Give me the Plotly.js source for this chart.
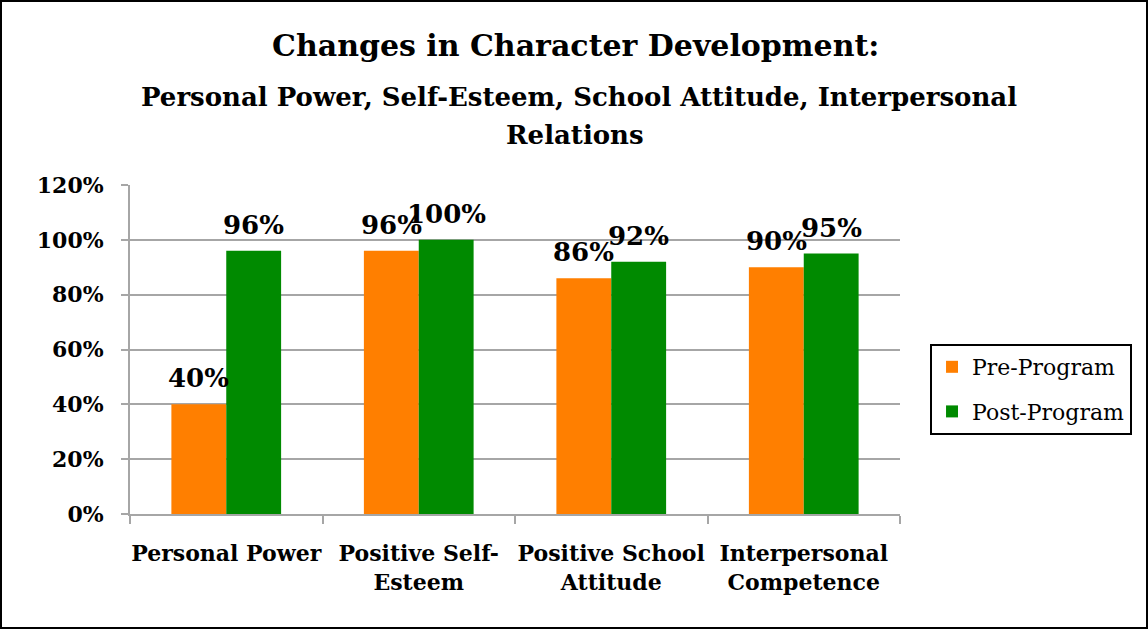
<!DOCTYPE html>
<html>
<head>
<meta charset="utf-8">
<script src="https://cdn.plot.ly/plotly-3.0.1.min.js"></script>
<style>
  html, body { margin: 0; padding: 0; background: #fff; }
  #chart { width: 1148px; height: 629px; box-sizing: border-box; border: 2px solid #000; }
</style>
</head>
<body>
<div id="chart"></div>
<script>
// ---- data ----
const categories = ["Personal Power", "Positive Self-<br>Esteem", "Positive School<br>Attitude", "Interpersonal<br>Competence"];
const seriesNames = ["Pre-Program", "Post-Program"];
const preProgram = [0.40, 0.96, 0.86, 0.90];
const postProgram = [0.96, 1.00, 0.92, 0.95];
const yTickVals = [0, 0.2, 0.4, 0.6, 0.8, 1.0, 1.2];
const yTickText = ["0%", "20%", "40%", "60%", "80%", "100%", "120%"];
const titleText = "Changes in Character Development:";
const subtitleLine1 = "Personal Power, Self-Esteem, School Attitude, Interpersonal";
const subtitleLine2 = "Relations";

// ---- style ----
const orange = "#FF7F00";
const green = "#008A00";
const grid = "#A6A6A6";
const serif = "DejaVu Serif, Liberation Serif, serif";
const bargap = 0.43;
const barW = (1 - bargap) / 2;

const traces = [
  { type: "bar", name: seriesNames[0], x: categories, y: preProgram,
    marker: { color: orange }, legendgroup: "a", hoverinfo: "skip" },
  { type: "bar", name: seriesNames[1], x: categories, y: postProgram,
    marker: { color: green }, legendgroup: "b", hoverinfo: "skip" }
];

const annotations = [];
function pct(v) { return Math.round(v * 100) + "%"; }
[preProgram, postProgram].forEach((vals, s) => {
  vals.forEach((v, i) => {
    annotations.push({
      x: i + (s === 0 ? -barW / 2 : barW / 2), y: v, xref: "x", yref: "y",
      text: pct(v), showarrow: false, yanchor: "bottom", xanchor: "center",
      yshift: 9, font: { family: serif, size: 26, color: "#000", weight: "bold" }
    });
  });
});
annotations.push({ x: 0.579, y: 1.4225, xref: "paper", yref: "paper", showarrow: false,
  text: titleText, font: { family: serif, size: 30, color: "#000", weight: "bold" }, yanchor: "middle" });
annotations.push({ x: 0.583, y: 1.2675, xref: "paper", yref: "paper", showarrow: false,
  text: subtitleLine1, font: { family: serif, size: 26, color: "#000", weight: "bold" }, yanchor: "middle" });
annotations.push({ x: 0.578, y: 1.152, xref: "paper", yref: "paper", showarrow: false,
  text: subtitleLine2, font: { family: serif, size: 26, color: "#000", weight: "bold" }, yanchor: "middle" });

const layout = {
  width: 1144, height: 625,
  margin: { l: 128, r: 246, t: 183, b: 113 },
  paper_bgcolor: "#fff", plot_bgcolor: "#fff",
  barmode: "group", bargap: bargap, bargroupgap: 0,
  showlegend: true,
  legend: {
    x: 1.039, y: 0.5167, xanchor: "left", yanchor: "top",
    bgcolor: "#fff", bordercolor: "#000", borderwidth: 2,
    font: { family: serif, size: 22, color: "#000" },
    tracegroupgap: 13, traceorder: "grouped"
  },
  xaxis: {
    type: "category", showgrid: false, zeroline: false,
    showline: true, linecolor: grid, linewidth: 2,
    ticks: "outside", tickson: "boundaries", ticklen: 8, tickcolor: grid, tickwidth: 2,
    tickangle: 0,
    tickfont: { family: serif, size: 22, color: "#000", weight: "bold" },
    ticklabelstandoff: 19
  },
  yaxis: {
    range: [0, 1.2], tickvals: yTickVals, ticktext: yTickText,
    showgrid: true, gridcolor: grid, gridwidth: 2, zeroline: false,
    showline: true, linecolor: grid, linewidth: 2,
    ticks: "outside", ticklen: 7, tickcolor: grid, tickwidth: 2,
    tickfont: { family: serif, size: 22, color: "#000", weight: "bold" },
    ticklabelstandoff: 13
  },
  annotations: annotations
};

Plotly.newPlot("chart", traces, layout, { displayModeBar: false, staticPlot: true });
</script>
</body>
</html>
